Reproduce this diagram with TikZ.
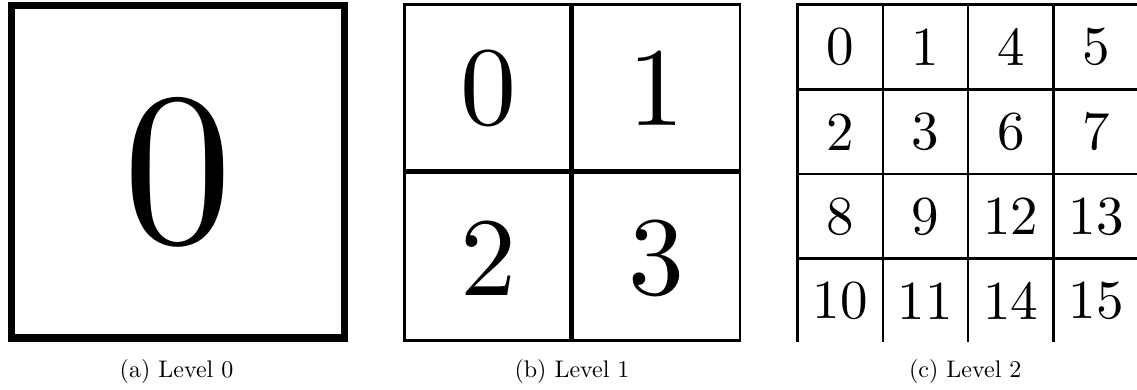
\documentclass[tikz,border=0pt]{standalone}
\usepackage{fontspec}
\newfontfamily\lvlfont{lmroman10-regular.otf}
\tikzset{
  lvl/frame/.style={draw=black, line width=1.35pt},
  lvl/heavyframe/.style={draw=black, line width=3.5pt},
  lvl/split/.style={draw=black, line width=2.5pt},
  lvl/grid/.style={draw=black, line width=1.3pt},
  lvl/digit/.style={inner sep=0pt, anchor=center, text=black},
  lvl/caption/.style={inner sep=0pt, anchor=base, font=\lvlfont\fontsize{12}{14}\selectfont}
}

\begin{document}
\begin{tikzpicture}[x=0.5pt,y=-0.5pt]
  \useasboundingbox (0,0) rectangle (1137,390);

  % level 0: one cell
  \draw[lvl/heavyframe] (11.5,6) rectangle (344,338);
  \node[lvl/digit, font=\lvlfont\fontsize{109}{110}\selectfont] (a0) at (177.7,172.5) {0};
  \node[lvl/caption] (capa) at (176.5,377.7) {(a) Level 0};

  % level 1: 2x2
  \draw[lvl/frame] (404.7,4.7) rectangle (740,340.7);
  \draw[lvl/split] (571.7,4.7) -- (571.7,340.7);
  \draw[lvl/split] (404.7,172) -- (740,172);
  \foreach \n/\x/\y in {0/488/88.3,1/656/88.3,2/488/258,3/656/258}{
    \node[lvl/digit, font=\lvlfont\fontsize{56}{58}\selectfont] (b\n) at (\x,\y) {\n};
  }
  \node[lvl/caption] (capb) at (572,377.7) {(b) Level 1};

  % level 2: 4x4 in Z order, cut at the right and bottom
  \draw[lvl/grid] (1137,4.7) -- (797.5,4.7) -- (797.5,342.3);
  \foreach \i in {1,2,3}{
    \draw[lvl/grid] ({797.5+85.3*\i},4.7) -- ({797.5+85.3*\i},342.3);
    \draw[lvl/grid] (797.5,{4.7+84.7*\i}) -- (1137,{4.7+84.7*\i});
  }
  \foreach \n/\c/\r in {0/0/0,1/1/0,4/2/0,5/3/0,2/0/1,3/1/1,6/2/1,7/3/1,
                        8/0/2,9/1/2,12/2/2,13/3/2,10/0/3,11/1/3,14/2/3,15/3/3}{
    \node[lvl/digit, font=\lvlfont\fontsize{27.5}{30}\selectfont] (c\n) at ({840.15+85.3*\c},{47+84.7*\r}) {\n};
  }
  \node[lvl/caption] (capc) at (965.3,377.7) {(c) Level 2};
\end{tikzpicture}
\end{document}
